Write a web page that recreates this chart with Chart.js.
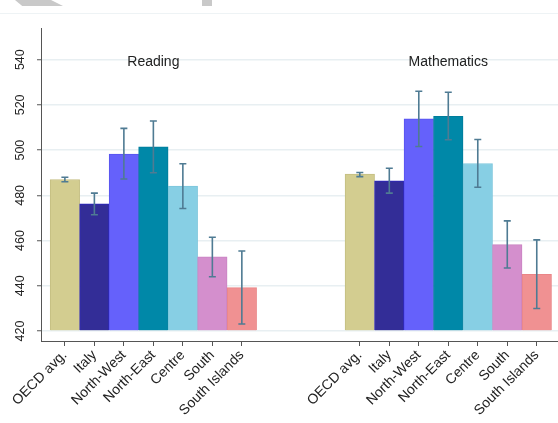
<!DOCTYPE html>
<html lang="en">
<head>
<meta charset="UTF-8">
<title>Reading and Mathematics scores by area</title>
<script src="https://cdn.jsdelivr.net/npm/chart.js"></script>
<style>
  body { margin: 0; background: #fff; }
  .wrap { position: relative; width: 558px; height: 423px; }
  .wrap canvas { position: absolute; left: 0; top: 0; }
  /* bits of the cropped page above the chart */
  .scrap1 { position: absolute; left: 15px; top: 0; width: 48px; height: 6px; background: #c9c9c9;
            clip-path: polygon(0 0, 75% 0, 100% 100%, 15% 100%); }
  .scrap2 { position: absolute; left: 202px; top: 0; width: 10px; height: 6px; background: #c9c9c9; }
  .topline { position: absolute; left: 0; top: 13px; width: 558px; height: 1px; background: #eef3f5; }
</style>
</head>
<body>
<div class="wrap">
  <div class="scrap1"></div>
  <div class="scrap2"></div>
  <div class="topline"></div>
  <canvas id="chart" width="558" height="423"></canvas>
</div>
<script>
// data
const areas = ['OECD avg.', 'Italy', 'North-West', 'North-East', 'Centre', 'South', 'South Islands'];
const subjects = ['Reading', 'Mathematics'];
const readingMean = [487.0, 476.2, 498.2, 501.5, 484.1, 452.8, 439.2];
const readingLow  = [486.0, 471.4, 487.2, 490.0, 474.2, 444.0, 423.1];
const readingHigh = [488.0, 481.0, 509.6, 512.9, 494.0, 461.5, 455.4];
const mathMean = [489.4, 486.4, 513.8, 514.9, 494.1, 458.2, 445.1];
const mathLow  = [488.3, 481.0, 501.6, 504.6, 483.6, 447.9, 430.0];
const mathHigh = [490.1, 492.0, 526.0, 525.6, 504.7, 468.7, 460.3];
const yTicks = [420, 440, 460, 480, 500, 520, 540];

const fillColors = ['#d3cd90', '#332d97', '#6561fb', '#0088a8', '#87cfe4', '#d48fcd', '#f09192'];
const lineColors = ['#c4be82', '#2a24c0', '#5854ee', '#007d9b', '#7cc6dc', '#c983c2', '#ea8587'];

const groupGap = 3;
const groupStart = subjects.map((s, g) => g * (areas.length + groupGap));
const means = [readingMean, mathMean];
const lows = [readingLow, mathLow];
const highs = [readingHigh, mathHigh];

const points = [];
const bg = [];
const bd = [];
const tickPos = [];
const tickLabel = {};
subjects.forEach((s, g) => {
    areas.forEach((a, i) => {
        const x = groupStart[g] + i;
        points.push({ x: x, y: means[g][i] });
        bg.push(fillColors[i]);
        bd.push(lineColors[i]);
        tickPos.push(x);
        tickLabel[x] = a;
    });
});

// error bars and group titles
const extras = {
    id: 'extras',
    afterDatasetsDraw(chart) {
        const ctx = chart.ctx;
        const xs = chart.scales.x;
        const ys = chart.scales.y;
        ctx.save();
        ctx.strokeStyle = '#4f7b93';
        ctx.lineWidth = 1.6;
        subjects.forEach((s, g) => {
            areas.forEach((a, i) => {
                const x = xs.getPixelForValue(groupStart[g] + i);
                const y1 = ys.getPixelForValue(lows[g][i]);
                const y2 = ys.getPixelForValue(highs[g][i]);
                ctx.beginPath();
                ctx.moveTo(x, y1); ctx.lineTo(x, y2);
                ctx.moveTo(x - 3.5, y1); ctx.lineTo(x + 3.5, y1);
                ctx.moveTo(x - 3.5, y2); ctx.lineTo(x + 3.5, y2);
                ctx.stroke();
            });
            ctx.fillStyle = '#222';
            ctx.font = '14px "Liberation Sans", Arial, sans-serif';
            ctx.textAlign = 'center';
            ctx.textBaseline = 'middle';
            ctx.fillText(s, xs.getPixelForValue(groupStart[g] + (areas.length - 1) / 2), ys.getPixelForValue(539));
        });
        ctx.restore();
    }
};

new Chart(document.getElementById('chart'), {
    type: 'bar',
    data: {
        datasets: [{
            data: points,
            base: yTicks[0],
            backgroundColor: bg,
            borderColor: bd,
            borderWidth: 1,
            barPercentage: 1,
            categoryPercentage: 1
        }]
    },
    options: {
        responsive: false,
        animation: false,
        layout: { padding: { top: 28, right: 0, bottom: 0, left: 0 } },
        plugins: { legend: { display: false }, tooltip: { enabled: false } },
        scales: {
            x: {
                type: 'linear',
                offset: false,
                min: -0.81,
                max: 16.72,
                afterBuildTicks: (scale) => { scale.ticks = tickPos.map(v => ({ value: v })); },
                afterFit: (scale) => { scale.height = 82; },
                grid: { offset: false, drawOnChartArea: false, drawTicks: true, tickLength: 5, tickColor: '#555', tickWidth: 1 },
                border: { color: '#555', width: 1 },
                ticks: {
                    autoSkip: false,
                    minRotation: 45,
                    maxRotation: 45,
                    padding: 1,
                    color: '#222',
                    font: { family: '"Liberation Sans", Arial, sans-serif', size: 14 },
                    callback: (v) => tickLabel[v] || ''
                }
            },
            y: {
                min: 415.6,
                max: 554,
                afterFit: (scale) => { scale.width = 41; },
                afterBuildTicks: (scale) => { scale.ticks = yTicks.map(v => ({ value: v })); },
                grid: { color: '#e8eff2', lineWidth: 1.5, drawTicks: true, tickLength: 4, tickColor: '#555', tickWidth: 1 },
                border: { color: '#555', width: 1 },
                ticks: {
                    minRotation: 90,
                    maxRotation: 90,
                    crossAlign: 'center',
                    padding: 6,
                    color: '#222',
                    font: { family: '"Liberation Sans", Arial, sans-serif', size: 12.5 }
                }
            }
        }
    },
    plugins: [extras]
});
</script>
</body>
</html>
